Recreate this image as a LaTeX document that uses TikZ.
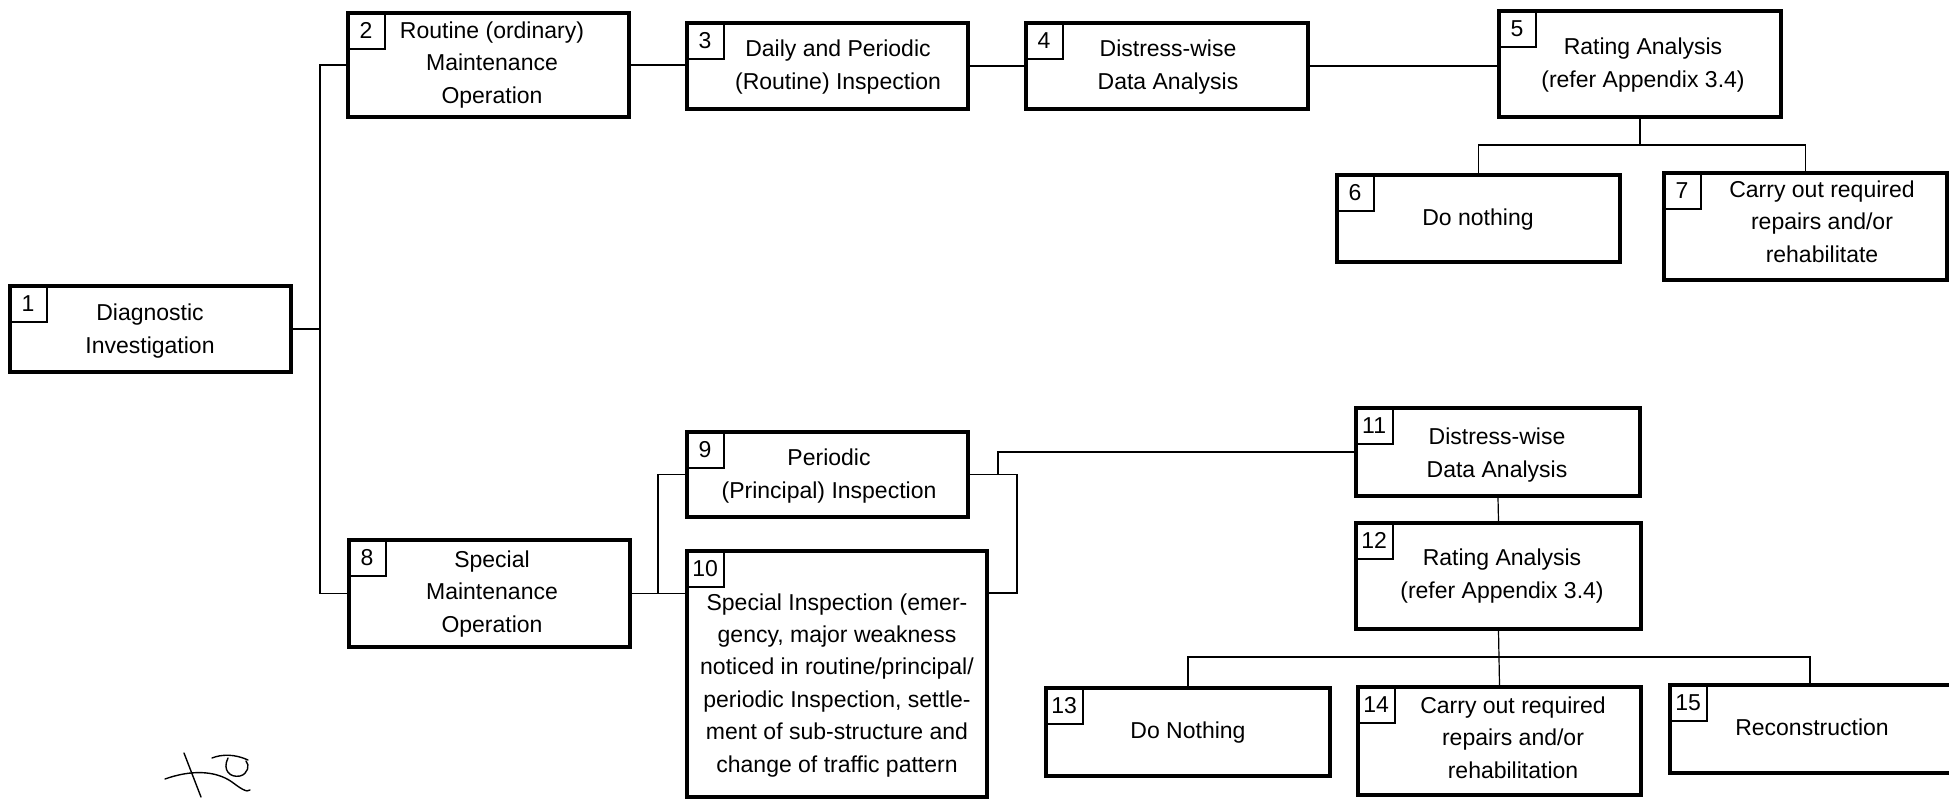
\documentclass[tikz,border=0pt]{standalone}
\usepackage{fontspec}
\setmainfont{Liberation Sans}
\usetikzlibrary{fit}
\begin{document}
\begin{tikzpicture}[x=0.5pt,y=-0.5pt,
  box/.style={draw, line width=1.6pt, inner sep=0pt},
  num/.style={draw, line width=0.7pt, anchor=north west, minimum width=19pt, minimum height=18.5pt, inner sep=0pt, font=\fontsize{11.5}{16}\selectfont},
  txt/.style={anchor=base, align=center, inner sep=0pt, font=\fontsize{11.5}{16.2}\selectfont},
  conn/.style={line width=0.6pt},
  scrib/.style={line width=0.7pt, line cap=round}]
\useasboundingbox (0,0) rectangle (1949,798);
\clip (0,0) rectangle (1949,798);
% boxes
\node[box, fit={(10,286) (291,372)}] (b1) {};
\node[box, fit={(348,13) (629,117)}] (b2) {};
\node[box, fit={(687,23) (968,109)}] (b3) {};
\node[box, fit={(1026,23) (1308,109)}] (b4) {};
\node[box, fit={(1499,11) (1781,117)}] (b5) {};
\node[box, fit={(1337,175) (1620,262)}] (b6) {};
\node[box, fit={(1664,173) (1947,280)}] (b7) {};
\node[box, fit={(349,540) (630,647)}] (b8) {};
\node[box, fit={(687,432) (968,517)}] (b9) {};
\node[box, fit={(687,551) (987,797)}] (b10) {};
\node[box, fit={(1356,408) (1640,496)}] (b11) {};
\node[box, fit={(1356,523) (1641,629)}] (b12) {};
\node[box, fit={(1046,688) (1330,776)}] (b13) {};
\node[box, fit={(1358,687) (1641,795)}] (b14) {};
\node[box, fit={(1670,685) (1965,773)}] (b15) {};
% number boxes
\node[num] (n1) at (b1.north west) {1};
\node[num] (n2) at (b2.north west) {2};
\node[num] (n3) at (b3.north west) {3};
\node[num] (n4) at (b4.north west) {4};
\node[num] (n5) at (b5.north west) {5};
\node[num] (n6) at (b6.north west) {6};
\node[num] (n7) at (b7.north west) {7};
\node[num] (n8) at (b8.north west) {8};
\node[num] (n9) at (b9.north west) {9};
\node[num] (n10) at (b10.north west) {10};
\node[num] (n11) at (b11.north west) {11};
\node[num] (n12) at (b12.north west) {12};
\node[num] (n13) at (b13.north west) {13};
\node[num] (n14) at (b14.north west) {14};
\node[num] (n15) at (b15.north west) {15};
% texts (anchored at the baseline of the last line)
\node[txt] (t1) at (150,353) {Diagnostic\\Investigation};
\node[txt] (t2) at (492,103) {Routine (ordinary)\\Maintenance\\Operation};
\node[txt] (t3) at (838,89) {Daily and Periodic\\(Routine) Inspection};
\node[txt] (t4) at (1168,89) {Distress-wise\\Data Analysis};
\node[txt] (t5) at (1643,87) {Rating Analysis\\(refer Appendix 3.4)};
\node[txt] (t6) at (1478,225) {Do nothing};
\node[txt] (t7) at (1822,262) {Carry out required\\repairs and/or\\rehabilitate};
\node[txt] (t8) at (492,632) {Special\\Maintenance\\Operation};
\node[txt] (t9) at (829,498) {Periodic\\(Principal) Inspection};
\node[txt] (t10) at (837,772) {Special Inspection (emer-\\gency, major weakness\\noticed in routine/principal/\\periodic Inspection, settle-\\ment of sub-structure and\\change of traffic pattern};
\node[txt] (t11) at (1497,477) {Distress-wise\\Data Analysis};
\node[txt] (t12) at (1502,598) {Rating Analysis\\(refer Appendix 3.4)};
\node[txt] (t13) at (1188,738) {Do Nothing};
\node[txt] (t14) at (1513,778) {Carry out required\\repairs and/or\\rehabilitation};
\node[txt] (t15) at (1812,735) {Reconstruction};
% junctions
\coordinate (j1) at (320,329);
\coordinate (s5) at (1640,145);
\coordinate (j8) at (658,593);
\coordinate (jr) at (1017,593);
\coordinate (u9) at (998,474);
\coordinate (s15) at (1810,657);
% connectors
\draw[conn] (b1.east) -- (j1);
\draw[conn] (b2.west) -| (j1) |- (b8.west);
\draw[conn] (b2.east) -- (b2.east -| b3.west);
\draw[conn] (b3.east) -- (b4.west);
\draw[conn] (b4.east) -- (b4.east -| b5.west);
\draw[conn] (b5.south) -- (s5);
\draw[conn] (b6.north) |- (s5) -| (b7.north);
\draw[conn] (b8.east) -- (b8.east -| b10.west);
\draw[conn] (b9.west) -| (j8);
\draw[conn] (b9.east) -| (jr) -- (b10.east |- jr);
\draw[conn] (u9) |- (b11.west);
\draw[conn] (b11.south) -- (b12.north);
\draw[conn] (b12.south) -- (b14.north);
\draw[conn] (b13.north) |- (s15) -- (s15 |- b15.north);
% handwritten mark
\draw[scrib] (184,753) -- (201,797);
\draw[scrib] (165,779) .. controls (190,770) and (215,770) .. (232,782) .. controls (240,788) and (247,793) .. (250,790);
\draw[scrib] (212,758) .. controls (222,754) and (235,754) .. (248,760);
\draw[scrib] (228,758) .. controls (222,770) and (230,778) .. (240,776) .. controls (248,774) and (250,765) .. (246,761);
\end{tikzpicture}
\end{document}
